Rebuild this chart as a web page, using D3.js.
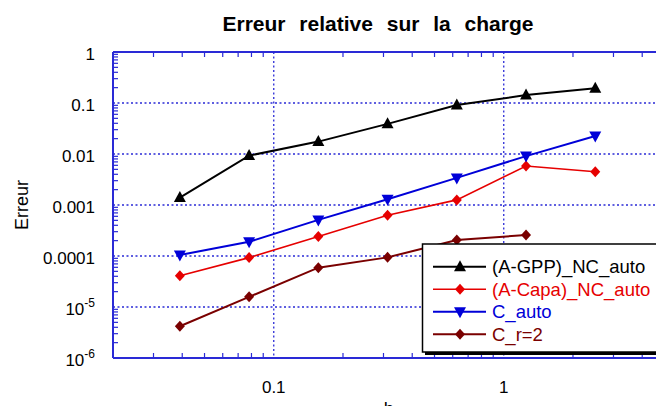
<!DOCTYPE html>
<html><head><meta charset="utf-8">
<script src="https://cdn.jsdelivr.net/npm/d3@7/dist/d3.min.js"></script>
<style>body{margin:0;background:#fff;}svg{display:block;font-family:"Liberation Sans",Arial,sans-serif;}</style>
</head><body>
<script>
const hValues = [0.0390625, 0.078125, 0.15625, 0.3125, 0.625, 1.25, 2.5];
const gppNC = [0.0014, 0.0093, 0.0175, 0.039, 0.091, 0.143, 0.195];
const capaNC = [4.1e-5, 9.3e-5, 2.4e-4, 6.3e-4, 1.26e-3, 5.8e-3, 4.5e-3];
const cAuto = [1.05e-4, 1.9e-4, 5.1e-4, 1.3e-3, 3.4e-3, 9.1e-3, 0.0225];
const cR2 = [4.2e-6, 1.58e-5, 5.9e-5, 9.4e-5, 2.05e-4, 2.58e-4];
const seriesNames = ["(A-GPP)_NC_auto", "(A-Capa)_NC_auto", "C_auto", "C_r=2"];
const yTickValues = [1, 0.1, 0.01, 0.001, 0.0001, 1e-5, 1e-6];
const yTickLabels = ["1", "0.1", "0.01", "0.001", "0.0001", "10|-5", "10|-6"];
const xTickValues = [0.1, 1];
const xTickLabels = ["0.1", "1"];

const W = 656, H = 406;
const L = 113, T = 52, B = 358, R = 664.5;
const svg = d3.select("body").append("svg").attr("width", W).attr("height", H);
const x = d3.scaleLog().domain([0.02, 5]).range([L, R]);
const y = d3.scaleLog().domain([1e-6, 1]).range([B, T]);
const axisCol = "#2a2ad6";

svg.append("text").attr("x", 378).attr("y", 31).attr("text-anchor", "middle")
  .attr("font-size", 21).attr("font-weight", "bold").attr("word-spacing", 8).text("Erreur relative sur la charge");

// grid
const g = svg.append("g");
xTickValues.forEach(v => g.append("line").attr("x1", x(v)).attr("x2", x(v)).attr("y1", T).attr("y2", B)
  .attr("stroke", axisCol).attr("stroke-width", 1.3).attr("stroke-dasharray", "2,2.5"));
yTickValues.forEach(v => g.append("line").attr("x1", L).attr("x2", W).attr("y1", y(v)).attr("y2", y(v))
  .attr("stroke", axisCol).attr("stroke-width", 1.3).attr("stroke-dasharray", "2,2.5"));

// minor ticks
const xMinor = [];
[0.01, 0.1, 1].forEach(d => { for (let k = 2; k <= 9; k++) { const v = d * k; if (v > 0.02 && v < 5) xMinor.push(v); } });
xMinor.forEach(v => {
  g.append("line").attr("x1", x(v)).attr("x2", x(v)).attr("y1", B).attr("y2", B - 5).attr("stroke", axisCol).attr("stroke-width", 1.2);
  g.append("line").attr("x1", x(v)).attr("x2", x(v)).attr("y1", T).attr("y2", T + 5).attr("stroke", axisCol).attr("stroke-width", 1.2);
});
const yMinor = [];
[1e-6, 1e-5, 1e-4, 1e-3, 1e-2, 1e-1].forEach(d => { for (let k = 2; k <= 9; k++) yMinor.push(d * k); });
yMinor.forEach(v => g.append("line").attr("x1", L).attr("x2", L + 5).attr("y1", y(v)).attr("y2", y(v)).attr("stroke", axisCol).attr("stroke-width", 1.2));

// border
g.append("line").attr("x1", L).attr("x2", L).attr("y1", T).attr("y2", B).attr("stroke", axisCol).attr("stroke-width", 2);
g.append("line").attr("x1", L).attr("x2", W).attr("y1", B).attr("y2", B).attr("stroke", axisCol).attr("stroke-width", 2);
g.append("line").attr("x1", L).attr("x2", W).attr("y1", T).attr("y2", T).attr("stroke", axisCol).attr("stroke-width", 2);

// tick labels
yTickValues.forEach((v, i) => {
  const lab = yTickLabels[i];
  const t = svg.append("text").attr("x", 95).attr("y", y(v) + 8).attr("text-anchor", "end").attr("font-size", 17);
  if (lab.includes("|")) {
    const [base, exp] = lab.split("|");
    t.append("tspan").text(base);
    t.append("tspan").attr("dy", -8).attr("font-size", 12).text(exp);
  } else t.text(lab);
});
xTickValues.forEach((v, i) => svg.append("text").attr("x", x(v)).attr("y", 393).attr("text-anchor", "middle").attr("font-size", 17).text(xTickLabels[i]));

svg.append("text").attr("x", (L + R) / 2).attr("y", 415).attr("text-anchor", "middle").attr("font-size", 18).text("h");
svg.append("text").attr("transform", `translate(28,${(T + B) / 2}) rotate(-90)`).attr("text-anchor", "middle").attr("font-size", 18).text("Erreur");

const series = [
  {vals: gppNC, color: "#000000", sym: "up", lw: 2},
  {vals: capaNC, color: "#e60000", sym: "diamond", lw: 1.6},
  {vals: cAuto, color: "#0000d8", sym: "down", lw: 2},
  {vals: cR2, color: "#7a0000", sym: "diamond", lw: 2}
];
function marker(sel, type, cx, cy, color) {
  if (type === "diamond") {
    sel.append("path").attr("d", `M${cx},${cy - 5.5}L${cx + 5},${cy}L${cx},${cy + 5.5}L${cx - 5},${cy}Z`).attr("fill", color);
  } else if (type === "up") {
    sel.append("path").attr("d", `M${cx},${cy - 6.5}L${cx + 6},${cy + 4.5}L${cx - 6},${cy + 4.5}Z`).attr("fill", color);
  } else {
    sel.append("path").attr("d", `M${cx},${cy + 6.5}L${cx + 6},${cy - 4.5}L${cx - 6},${cy - 4.5}Z`).attr("fill", color);
  }
}
const line = d3.line().x(d => x(d[0])).y(d => y(d[1]));
series.forEach(s => {
  const pts = s.vals.map((v, i) => [hValues[i], v]);
  svg.append("path").attr("d", line(pts)).attr("fill", "none").attr("stroke", s.color).attr("stroke-width", s.lw);
  pts.forEach(p => marker(svg, s.sym, x(p[0]), y(p[1]), s.color));
});

// legend
const lg = svg.append("g");
lg.append("rect").attr("x", 425).attr("y", 247).attr("width", 260).attr("height", 108).attr("fill", "#000");
lg.append("rect").attr("x", 422.5).attr("y", 244).attr("width", 260).attr("height", 108).attr("fill", "#fff").attr("stroke", "#000").attr("stroke-width", 1.5);
series.forEach((s, i) => {
  const yy = 266.7 + i * 22.5;
  lg.append("line").attr("x1", 433).attr("x2", 486).attr("y1", yy).attr("y2", yy).attr("stroke", s.color).attr("stroke-width", s.lw);
  marker(lg, s.sym, 460, yy, s.color);
  lg.append("text").attr("x", 492).attr("y", yy + 6.5).attr("font-size", 18.5).attr("fill", s.color).text(seriesNames[i]);
});
</script>
</body></html>
